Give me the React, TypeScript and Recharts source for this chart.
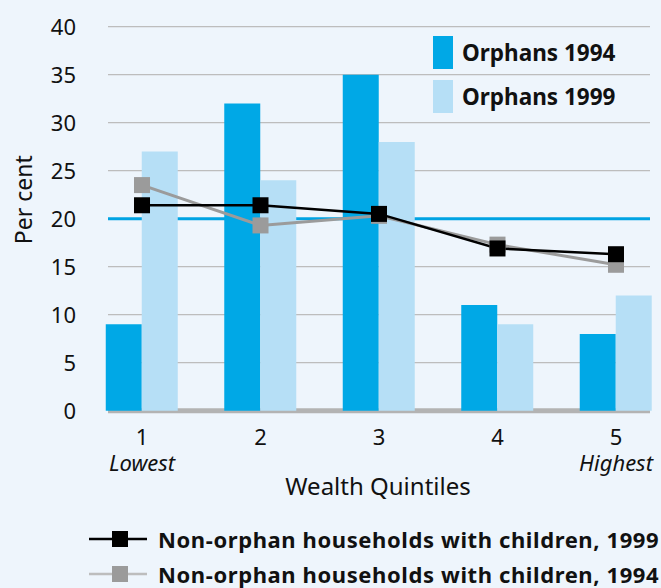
import React from 'react';
import {
  ComposedChart,
  Bar,
  Line,
  XAxis,
  YAxis,
  CartesianGrid,
  ReferenceLine,
  Legend,
} from 'recharts';

// ---- data ----
const quintiles = [1, 2, 3, 4, 5];
const quintileNotes = ['Lowest', '', '', '', 'Highest'];
const orphans1994 = [9, 32, 35, 11, 8];
const orphans1999 = [27, 24, 28, 9, 12];
const nonOrphan1999 = [21.4, 21.4, 20.5, 16.9, 16.3];
const nonOrphan1994 = [23.5, 19.3, 20.3, 17.3, 15.2];
const yTicks = [0, 5, 10, 15, 20, 25, 30, 35, 40];
const referenceLevel = 20;

const data = quintiles.map((q, i) => ({
  q,
  orphans1994: orphans1994[i],
  orphans1999: orphans1999[i],
  nonOrphan1999: nonOrphan1999[i],
  nonOrphan1994: nonOrphan1994[i],
}));

const FONT = '"Noto Sans", "DejaVu Sans", sans-serif';
const BG = '#eef5fc';
const BLUE = '#00a8e6';
const LIGHT_BLUE = '#b6dff6';
const GREY = '#9b9b9b';

const QuintileTick: React.FC<any> = ({ x, y, payload }) => {
  const note = quintileNotes[quintiles.indexOf(payload.value)] ?? '';
  return (
    <g>
      <text x={x} y={y + 34} textAnchor="middle" fontSize={22} fill="#111" fontFamily={FONT}>
        {payload.value}
      </text>
      {note && (
        <text
          x={x}
          y={y + 60}
          textAnchor="middle"
          fontSize={22}
          fontStyle="italic"
          fill="#111"
          fontFamily={FONT}
        >
          {note}
        </text>
      )}
    </g>
  );
};

const XTitle: React.FC<any> = ({ viewBox }) => {
  if (!viewBox) return null;
  return (
    <text
      x={viewBox.x + viewBox.width / 2 - 1}
      y={viewBox.y + 84}
      textAnchor="middle"
      fontSize={24}
      fill="#111"
      fontFamily={FONT}
    >
      Wealth Quintiles
    </text>
  );
};

const YTitle: React.FC<any> = ({ viewBox }) => {
  if (!viewBox) return null;
  const cx = viewBox.x + 32;
  const cy = viewBox.y + viewBox.height / 2 - 19;
  return (
    <text
      x={cx}
      y={cy}
      transform={`rotate(-90 ${cx} ${cy})`}
      textAnchor="middle"
      fontSize={23}
      fill="#111"
      fontFamily={FONT}
    >
      Per cent
    </text>
  );
};

const squareDot = (color: string) => (props: any) => {
  const { cx, cy, index } = props;
  if (cx == null || cy == null) return <g key={index} />;
  return <rect key={index} x={cx - 8} y={cy - 8} width={16} height={16} fill={color} />;
};

const LineSymbol = ({ line, marker }: { line: string; marker: string }) => (
  <svg width={58} height={20} style={{ display: 'block' }}>
    <line x1={0} y1={10} x2={58} y2={10} stroke={line} strokeWidth={2.7} />
    <rect x={23} y={2} width={16} height={16} fill={marker} />
  </svg>
);

const ChartLegend: React.FC<any> = () => {
  const textStyle: React.CSSProperties = {
    display: 'block',
    fontFamily: FONT,
    fontWeight: 700,
    fontSize: 22,
    lineHeight: '24px',
    letterSpacing: 0.6,
    color: '#111',
    whiteSpace: 'nowrap',
  };
  return (
    <div style={{ position: 'relative', width: 661, height: 588 }}>
      <div style={{ position: 'absolute', left: 433, top: 36 }}>
        {[
          { name: 'Orphans 1994', color: BLUE },
          { name: 'Orphans 1999', color: LIGHT_BLUE },
        ].map((item, i) => (
          <div
            key={item.name}
            style={{ display: 'flex', alignItems: 'center', height: 33, marginBottom: i === 0 ? 11 : 0 }}
          >
            <div style={{ width: 20, height: 33, background: item.color }} />
            <span style={{ ...textStyle, fontSize: 22.5, letterSpacing: 0, marginLeft: 9 }}>{item.name}</span>
          </div>
        ))}
      </div>
      <div style={{ position: 'absolute', left: 89, top: 521 }}>
        {[
          { name: 'Non-orphan households with children, 1999', line: '#000', marker: '#000' },
          { name: 'Non-orphan households with children, 1994', line: '#bdbdbd', marker: GREY },
        ].map((item) => (
          <div key={item.name} style={{ display: 'flex', alignItems: 'center', height: 35 }}>
            <LineSymbol line={item.line} marker={item.marker} />
            <span style={{ ...textStyle, marginLeft: 11 }}>{item.name}</span>
          </div>
        ))}
      </div>
    </div>
  );
};

export default function App() {
  return (
    <div style={{ position: 'absolute', left: 0, top: 0, width: 661, height: 588, background: BG }}>
      <ComposedChart
        width={661}
        height={588}
        data={data}
        barGap={0}
        margin={{ top: 26.7, right: 11, left: 0, bottom: 77.3 }}
        style={{ fontFamily: FONT }}
      >
        <CartesianGrid vertical={false} stroke="#bdbdbd" strokeWidth={1.2} />
        <ReferenceLine y={referenceLevel} stroke="#00a3e3" strokeWidth={3} zIndex={150} />
        <ReferenceLine y={0} stroke="#b3b3b3" strokeWidth={5} zIndex={160} />
        <XAxis
          type="number"
          dataKey="q"
          domain={[0.713, 5.287]}
          ticks={quintiles}
          interval={0}
          tickLine={false}
          axisLine={false}
          tickSize={0}
          tickMargin={0}
          height={100}
          tick={<QuintileTick />}
          label={<XTitle />}
        />
        <YAxis
          type="number"
          domain={[0, 40]}
          ticks={yTicks}
          interval={0}
          tickLine={false}
          axisLine={false}
          width={108}
          tickSize={0}
          tickMargin={32}
          tick={{ fontSize: 22, fill: '#111', fontFamily: FONT }}
          label={<YTitle />}
        />
        <Bar dataKey="orphans1994" name="Orphans 1994" fill={BLUE} barSize={36} isAnimationActive={false} />
        <Bar dataKey="orphans1999" name="Orphans 1999" fill={LIGHT_BLUE} barSize={36} isAnimationActive={false} />
        <Line
          dataKey="nonOrphan1994"
          name="Non-orphan households with children, 1994"
          stroke={GREY}
          strokeWidth={3}
          dot={squareDot(GREY)}
          activeDot={false}
          isAnimationActive={false}
        />
        <Line
          dataKey="nonOrphan1999"
          name="Non-orphan households with children, 1999"
          stroke="#000"
          strokeWidth={2.5}
          dot={squareDot('#000')}
          activeDot={false}
          isAnimationActive={false}
        />
        <Legend
          layout="horizontal"
          verticalAlign="middle"
          align="center"
          content={<ChartLegend />}
          wrapperStyle={{ position: 'absolute', left: 0, top: 0, width: 661, height: 588, pointerEvents: 'none' }}
        />
      </ComposedChart>
    </div>
  );
}
